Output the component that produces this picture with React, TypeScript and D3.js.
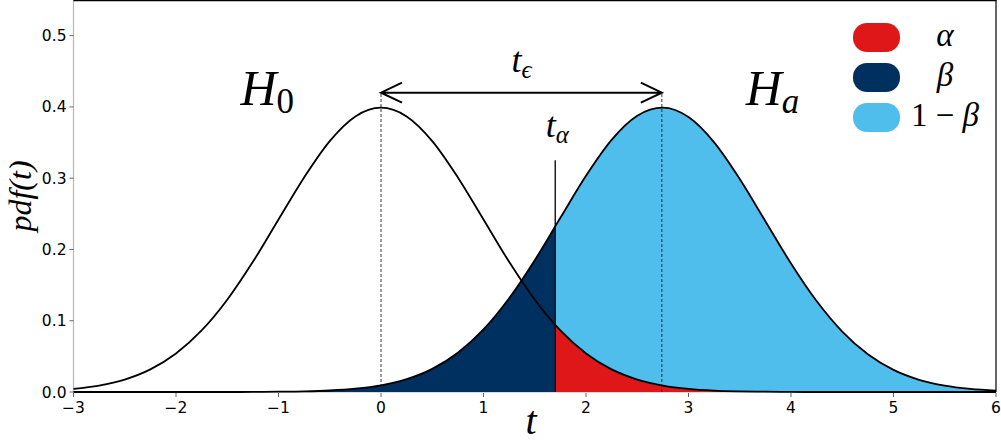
import React, { useEffect, useRef } from 'react'
import * as d3 from 'd3'

// t grid and the two densities
const tGrid = [-3, -2.75, -2.5, -2.25, -2, -1.75, -1.5, -1.25, -1, -0.75, -0.5, -0.25, 0, 0.25, 0.5, 0.75, 1, 1.25, 1.5, 1.75, 2, 2.25, 2.5, 2.75, 3, 3.25, 3.5, 3.75, 4, 4.25, 4.5, 4.75, 5, 5.25, 5.5, 5.75, 6]
const h0Pdf = [0.0044, 0.0091, 0.0175, 0.0317, 0.054, 0.0863, 0.1295, 0.1826, 0.242, 0.3011, 0.3521, 0.3867, 0.3989, 0.3867, 0.3521, 0.3011, 0.242, 0.1826, 0.1295, 0.0863, 0.054, 0.0317, 0.0175, 0.0091, 0.0044, 0.002, 0.0009, 0.0004, 0.0001, 0, 0, 0, 0, 0, 0, 0, 0]
const haPdf = [0, 0, 0, 0, 0, 0, 0, 0.0001, 0.0004, 0.0009, 0.0021, 0.0046, 0.0093, 0.018, 0.0325, 0.0551, 0.0878, 0.1315, 0.1849, 0.2444, 0.3034, 0.3538, 0.3876, 0.3989, 0.3857, 0.3503, 0.2989, 0.2396, 0.1804, 0.1276, 0.0848, 0.0529, 0.031, 0.0171, 0.0088, 0.0043, 0.002]

const h0Mean = 0
const haMean = 2.74
const tAlpha = 1.7
const tAlphaTop = 0.325
const arrowLevel = 0.42

const xTicks = [-3, -2, -1, 0, 1, 2, 3, 4, 5, 6]
const yTicks = [0, 0.1, 0.2, 0.3, 0.4, 0.5]

const legendLabels = ['α', 'β', '1 − β']
const legendColors = ['#e01719', '#00305f', '#4fbeec']

const W = 1001
const H = 443
const MATH = '"Liberation Serif", "DejaVu Serif", serif'
const SANS = '"DejaVu Sans", sans-serif'

export default function App() {
  const ref = useRef<SVGSVGElement>(null)

  useEffect(() => {
    const svg = d3.select(ref.current)
    svg.selectAll('*').remove()

    const x = d3.scaleLinear().domain([-3, 6]).range([73.5, 996])
    const y = d3.scaleLinear().domain([0, 0.55]).range([392, 0])

    const h0 = tGrid.map((t, i) => [t, h0Pdf[i]] as [number, number])
    const ha = tGrid.map((t, i) => [t, haPdf[i]] as [number, number])

    const defs = svg.append('defs')
    defs.append('clipPath').attr('id', 'left-of-alpha')
      .append('rect')
      .attr('x', x(-3)).attr('y', 0)
      .attr('width', x(tAlpha) - x(-3)).attr('height', y(0))
    defs.append('clipPath').attr('id', 'right-of-alpha')
      .append('rect')
      .attr('x', x(tAlpha)).attr('y', 0)
      .attr('width', x(6) - x(tAlpha)).attr('height', y(0))

    const area = d3.area<[number, number]>()
      .x(d => x(d[0])).y0(y(0)).y1(d => y(d[1]))
      .curve(d3.curveMonotoneX)
    const line = d3.line<[number, number]>()
      .x(d => x(d[0])).y(d => y(d[1]))
      .curve(d3.curveMonotoneX)

    // bottom + left spines (grey), drawn under the fills
    svg.append('line')
      .attr('x1', x(-3)).attr('x2', x(6)).attr('y1', y(0)).attr('y2', y(0))
      .attr('stroke', '#b8b8b8').attr('stroke-width', 1)
    svg.append('line')
      .attr('x1', x(-3)).attr('x2', x(-3)).attr('y1', 0).attr('y2', y(0))
      .attr('stroke', '#b8b8b8').attr('stroke-width', 1.2)

    // fills
    svg.append('path').datum(ha).attr('d', area)
      .attr('fill', legendColors[2]).attr('clip-path', 'url(#right-of-alpha)')
    svg.append('path').datum(ha).attr('d', area)
      .attr('fill', legendColors[1]).attr('clip-path', 'url(#left-of-alpha)')
    svg.append('path').datum(h0).attr('d', area)
      .attr('fill', legendColors[0]).attr('clip-path', 'url(#right-of-alpha)')

    // dashed guides at the means
    ;[h0Mean, haMean].forEach(m => {
      svg.append('line')
        .attr('x1', x(m)).attr('x2', x(m))
        .attr('y1', y(0)).attr('y2', y(arrowLevel))
        .attr('stroke', '#222').attr('stroke-width', 0.9)
        .attr('stroke-dasharray', '3,2')
    })

    // t_alpha line
    svg.append('line')
      .attr('x1', x(tAlpha)).attr('x2', x(tAlpha))
      .attr('y1', y(0)).attr('y2', y(tAlphaTop))
      .attr('stroke', '#111').attr('stroke-width', 1.4)

    // curves
    ;[h0, ha].forEach(d => {
      svg.append('path').datum(d).attr('d', line)
        .attr('fill', 'none').attr('stroke', '#000').attr('stroke-width', 1.8)
    })

    // double arrow
    const ax0 = x(h0Mean), ax1 = x(haMean), ay = y(arrowLevel)
    const hl = 21, hw = 10
    svg.append('path')
      .attr('d', `M${ax0},${ay}L${ax1},${ay}` +
        `M${ax0 + hl},${ay - hw}L${ax0},${ay}L${ax0 + hl},${ay + hw}` +
        `M${ax1 - hl},${ay - hw}L${ax1},${ay}L${ax1 - hl},${ay + hw}`)
      .attr('fill', 'none').attr('stroke', '#000').attr('stroke-width', 2)

    // top + right spines
    svg.append('line')
      .attr('x1', x(-3)).attr('x2', x(6) + 0.5).attr('y1', 0.5).attr('y2', 0.5)
      .attr('stroke', '#000').attr('stroke-width', 1.5)
    svg.append('line')
      .attr('x1', x(6)).attr('x2', x(6)).attr('y1', 0).attr('y2', y(0))
      .attr('stroke', '#000').attr('stroke-width', 1.2)

    // ticks
    const xAxis = svg.append('g')
    xTicks.forEach(t => {
      xAxis.append('line')
        .attr('x1', x(t)).attr('x2', x(t)).attr('y1', y(0) + 1).attr('y2', y(0) + 5)
        .attr('stroke', '#555').attr('stroke-width', 0.9)
      xAxis.append('text')
        .attr('x', x(t)).attr('y', 413)
        .attr('text-anchor', 'middle')
        .attr('font-family', SANS).attr('font-size', 15.5)
        .text(t < 0 ? `−${Math.abs(t)}` : `${t}`)
    })
    const yAxis = svg.append('g')
    yTicks.forEach(v => {
      yAxis.append('line')
        .attr('x1', x(-3) - 4).attr('x2', x(-3))
        .attr('y1', y(v)).attr('y2', y(v))
        .attr('stroke', '#555').attr('stroke-width', 0.9)
      yAxis.append('text')
        .attr('x', x(-3) - 7).attr('y', y(v) + 5.5)
        .attr('text-anchor', 'end')
        .attr('font-family', SANS).attr('font-size', 15.5)
        .text(v.toFixed(1))
    })

    // math labels
    const mathText = (px: number, py: number, anchor: string, size: number) =>
      svg.append('text')
        .attr('x', px).attr('y', py)
        .attr('text-anchor', anchor)
        .attr('font-family', MATH).attr('font-size', size)

    const h0Label = mathText(x(-1.11), 105, 'middle', 50)
    h0Label.append('tspan').attr('font-style', 'italic').text('H')
    h0Label.append('tspan').attr('font-size', 35).attr('dy', 8).text('0')

    const haLabel = mathText(x(3.82), 105, 'middle', 50)
    haLabel.append('tspan').attr('font-style', 'italic').text('H')
    haLabel.append('tspan').attr('font-size', 35).attr('dy', 8).attr('font-style', 'italic').text('a')

    const teLabel = mathText(x((h0Mean + haMean) / 2), 72, 'middle', 36)
    teLabel.append('tspan').attr('font-style', 'italic').text('t')
    teLabel.append('tspan').attr('font-size', 25).attr('dy', 6).attr('font-style', 'italic').text('ϵ')

    const taLabel = mathText(x(tAlpha) + 2, 137, 'middle', 36)
    taLabel.append('tspan').attr('font-style', 'italic').text('t')
    taLabel.append('tspan').attr('font-size', 25).attr('dy', 6).attr('font-style', 'italic').text('α')

    mathText(531, 434, 'middle', 40).attr('font-style', 'italic').text('t')

    svg.append('text')
      .attr('transform', `translate(31, 196) rotate(-90)`)
      .attr('text-anchor', 'middle')
      .attr('font-family', MATH).attr('font-size', 32).attr('font-style', 'italic')
      .text('pdf(t)')

    // legend
    const legend = svg.append('g')
    legendLabels.forEach((lab, i) => {
      const top = 23 + i * 40
      legend.append('rect')
        .attr('x', 853).attr('y', top).attr('width', 47).attr('height', 29)
        .attr('rx', 14).attr('ry', 14)
        .attr('fill', legendColors[i])
      const tx = legend.append('text')
        .attr('x', 945).attr('y', top + 23)
        .attr('text-anchor', 'middle')
        .attr('font-family', MATH).attr('font-size', 33)
      if (i < 2) {
        tx.attr('font-style', 'italic').text(lab)
      } else {
        tx.append('tspan').text('1 − ')
        tx.append('tspan').attr('font-style', 'italic').text('β')
      }
    })
  }, [])

  return (
    <div style={{ position: 'fixed', left: 0, top: 0, width: W, height: H, background: '#fff' }}>
      <svg ref={ref} width={W} height={H} style={{ display: 'block' }} />
    </div>
  )
}
